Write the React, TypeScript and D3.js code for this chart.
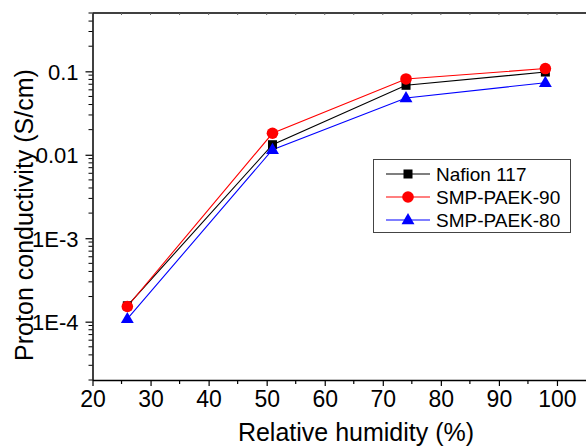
import * as d3 from "d3";
import { useEffect, useRef } from "react";

const humidity = [26, 51, 74, 98];
const nafion = [1.55e-4, 0.0132, 0.068, 0.098];
const paek90 = [1.52e-4, 0.0181, 0.081, 0.108];
const paek80 = [1.08e-4, 0.0115, 0.048, 0.073];
const yTickValues = [1e-4, 1e-3, 0.01, 0.1];
const yTickLabels = ["1E-4", "1E-3", "0.01", "0.1"];

const series = [
  { name: "Nafion 117", values: nafion, color: "#000000", shape: "square" },
  { name: "SMP-PAEK-90", values: paek90, color: "#ff0000", shape: "circle" },
  { name: "SMP-PAEK-80", values: paek80, color: "#0000ff", shape: "triangle" },
];

function App() {
  const ref = useRef<SVGSVGElement>(null);

  useEffect(() => {
    const width = 586;
    const svg = d3.select(ref.current);
    svg.selectAll("*").remove();

    const x = d3.scaleLinear().domain([20, 105]).range([92.5, 586]);
    const y = d3.scaleLog().domain([2e-5, 0.5]).range([380, 13]);
    const font = "Arial, 'Liberation Sans', sans-serif";

    // minor ticks
    const minorY: number[] = [];
    for (let e = -5; e <= -1; e++) {
      for (let m = 2; m <= 9; m++) {
        const v = m * Math.pow(10, e);
        if (v >= 2e-5 && v <= 0.5) minorY.push(v);
      }
    }

    const xAxis = d3.axisBottom(x)
      .tickValues(d3.range(20, 101, 10))
      .tickSize(6)
      .tickSizeOuter(0)
      .tickPadding(5);
    const gx = svg.append("g")
      .attr("transform", `translate(0,380)`)
      .call(xAxis);
    gx.selectAll("text").attr("font-size", 23).attr("font-family", font).attr("fill", "#000");
    gx.select(".domain").attr("stroke-width", 1.5);
    gx.selectAll(".tick line").attr("stroke-width", 1.2);
    gx.selectAll(".minor")
      .data(d3.range(25, 105, 10))
      .enter()
      .append("line")
      .attr("x1", d => x(d)).attr("x2", d => x(d))
      .attr("y1", 0).attr("y2", 4)
      .attr("stroke", "#000").attr("stroke-width", 1.2);

    // top axis line with small inward ticks
    const gt = svg.append("g");
    gt.append("line")
      .attr("x1", x(20)).attr("x2", width)
      .attr("y1", y(0.5)).attr("y2", y(0.5))
      .attr("stroke", "#000").attr("stroke-width", 1.5);
    gt.selectAll(".t")
      .data(d3.range(25, 105, 5))
      .enter()
      .append("line")
      .attr("x1", d => x(d)).attr("x2", d => x(d))
      .attr("y1", y(0.5)).attr("y2", y(0.5) + 2)
      .attr("stroke", "#666").attr("stroke-width", 1);

    const yAxis = d3.axisLeft(y)
      .tickValues(yTickValues)
      .tickFormat((d, i) => yTickLabels[i])
      .tickSize(7)
      .tickSizeOuter(0)
      .tickPadding(7);
    const gy = svg.append("g")
      .attr("transform", `translate(${x(20)},0)`)
      .call(yAxis);
    gy.selectAll("text").attr("font-size", 22).attr("font-family", font).attr("fill", "#000").attr("dy", "0.36em");
    gy.select(".domain").attr("stroke-width", 1.5);
    gy.selectAll(".tick line").attr("stroke-width", 1.2);
    gy.selectAll(".minor")
      .data(minorY)
      .enter()
      .append("line")
      .attr("x1", -4).attr("x2", 0)
      .attr("y1", d => y(d)).attr("y2", d => y(d))
      .attr("stroke", "#000").attr("stroke-width", 1);

    // lines and markers
    const line = d3.line<number>()
      .x((_, i) => x(humidity[i]))
      .y(d => y(d));

    const drawMarker = (g: any, shape: string, cx: number, cy: number, color: string) => {
      if (shape === "square") {
        g.append("rect").attr("x", cx - 4.5).attr("y", cy - 4.5).attr("width", 9).attr("height", 9).attr("fill", color);
      } else if (shape === "circle") {
        g.append("circle").attr("cx", cx).attr("cy", cy).attr("r", 5.8).attr("fill", color);
      } else {
        const s = d3.symbol().type(d3.symbolTriangle).size(72);
        g.append("path").attr("d", s()).attr("transform", `translate(${cx},${cy + 0.5})`).attr("fill", color);
      }
    };

    const order = [0, 2, 1];
    order.forEach(k => {
      const s = series[k];
      svg.append("path")
        .attr("d", line(s.values))
        .attr("fill", "none")
        .attr("stroke", s.color)
        .attr("stroke-width", 1.1);
    });
    order.forEach(k => {
      const s = series[k];
      const g = svg.append("g");
      s.values.forEach((v, i) => drawMarker(g, s.shape, x(humidity[i]), y(v), s.color));
    });

    // legend
    const lg = svg.append("g");
    lg.append("rect")
      .attr("x", 373.5).attr("y", 159.5).attr("width", 197).attr("height", 73)
      .attr("fill", "#fff").attr("stroke", "#444").attr("stroke-width", 1);
    series.forEach((s, i) => {
      const cy = 174 + i * 23;
      lg.append("line")
        .attr("x1", 386).attr("x2", 430)
        .attr("y1", cy).attr("y2", cy)
        .attr("stroke", s.color).attr("stroke-width", 1.1);
      drawMarker(lg, s.shape, 408, cy, s.color);
      lg.append("text")
        .attr("x", 436).attr("y", cy)
        .attr("dy", "0.36em")
        .attr("font-size", 19)
        .attr("font-family", font)
        .text(s.name);
    });

    // axis titles
    svg.append("text")
      .attr("x", 356).attr("y", 441)
      .attr("text-anchor", "middle")
      .attr("font-size", 25)
      .attr("font-family", font)
      .text("Relative humidity (%)");
    svg.append("text")
      .attr("transform", `translate(33,215) rotate(-90)`)
      .attr("text-anchor", "middle")
      .attr("font-size", 25)
      .attr("font-family", font)
      .text("Proton conductivity (S/cm)");
  }, []);

  return (
    <svg ref={ref} width={586} height={448}
      style={{ position: "absolute", left: 0, top: 0, background: "#fff" }} />
  );
}

export default App;
